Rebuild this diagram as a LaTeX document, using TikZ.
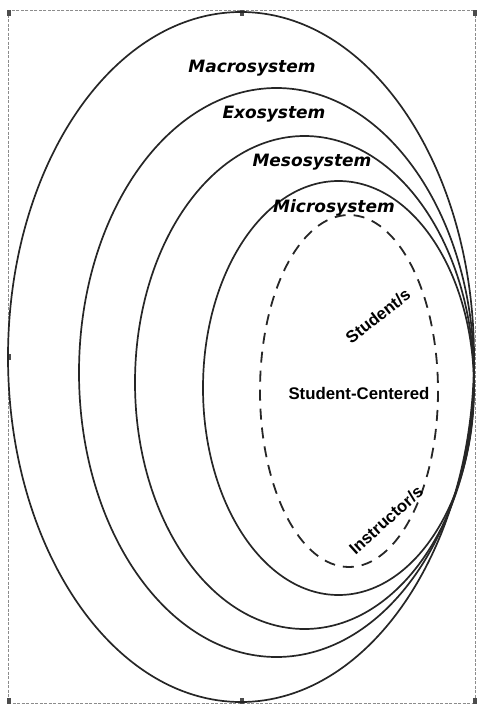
\documentclass[tikz,border=0pt]{standalone}
\usepackage{fontspec}
\newfontfamily\sysfont{DejaVu Sans}
\newfontfamily\arfont{Liberation Sans}
\begin{document}
\begin{tikzpicture}[x=1pt,y=-1pt,
  ring/.style={draw=black!85,line width=1.7pt},
  dashring/.style={draw=black!85,line width=1.8pt,dash pattern=on 11pt off 8pt},
  frame/.style={draw=black!45,line width=0.6pt,dash pattern=on 3pt off 1.5pt},
  handle/.style={fill=black!70,draw=none,minimum width=4pt,minimum height=6pt,inner sep=0pt},
  syslabel/.style={font=\sysfont\bfseries\itshape\fontsize{17}{20}\selectfont,inner sep=0pt},
  inlabel/.style={font=\arfont\bfseries\fontsize{16.8}{19}\selectfont,inner sep=0pt}]
\useasboundingbox (0,0) rectangle (479,707);
% selection frame
\draw[frame] (8,10) rectangle (475,703);
\node[handle] (h1) at (9,13) {};
\node[handle] (h2) at (242,13) {};
\node[handle] (h3) at (475,13) {};
\node[handle] (h4) at (9,357) {};
\node[handle] (h5) at (9,701) {};
\node[handle] (h6) at (242,701) {};
\node[handle] (h7) at (475,701) {};
% ellipses
\draw[ring] (241,357) ellipse [x radius=233, y radius=345];
\draw[ring] (276.5,372.5) ellipse [x radius=197.5, y radius=284.5];
\draw[ring] (304.5,382.5) ellipse [x radius=169.5, y radius=246.5];
\draw[ring] (338.5,388) ellipse [x radius=135.5, y radius=207];
\draw[dashring] (349,391) ellipse [x radius=89, y radius=176];
% labels
\node[syslabel] (macro) at (252,68) {Macrosystem};
\node[syslabel] (exo) at (274,114) {Exosystem};
\node[syslabel] (meso) at (312,162) {Mesosystem};
\node[syslabel] (micro) at (334,208) {Microsystem};
\node[inlabel] (sc) at (359,393) {Student-Centered};
\node[inlabel,rotate=38] (stu) at (378,316) {Student/s};
\node[inlabel,rotate=42] (ins) at (386,520) {Instructor/s};
\end{tikzpicture}
\end{document}
